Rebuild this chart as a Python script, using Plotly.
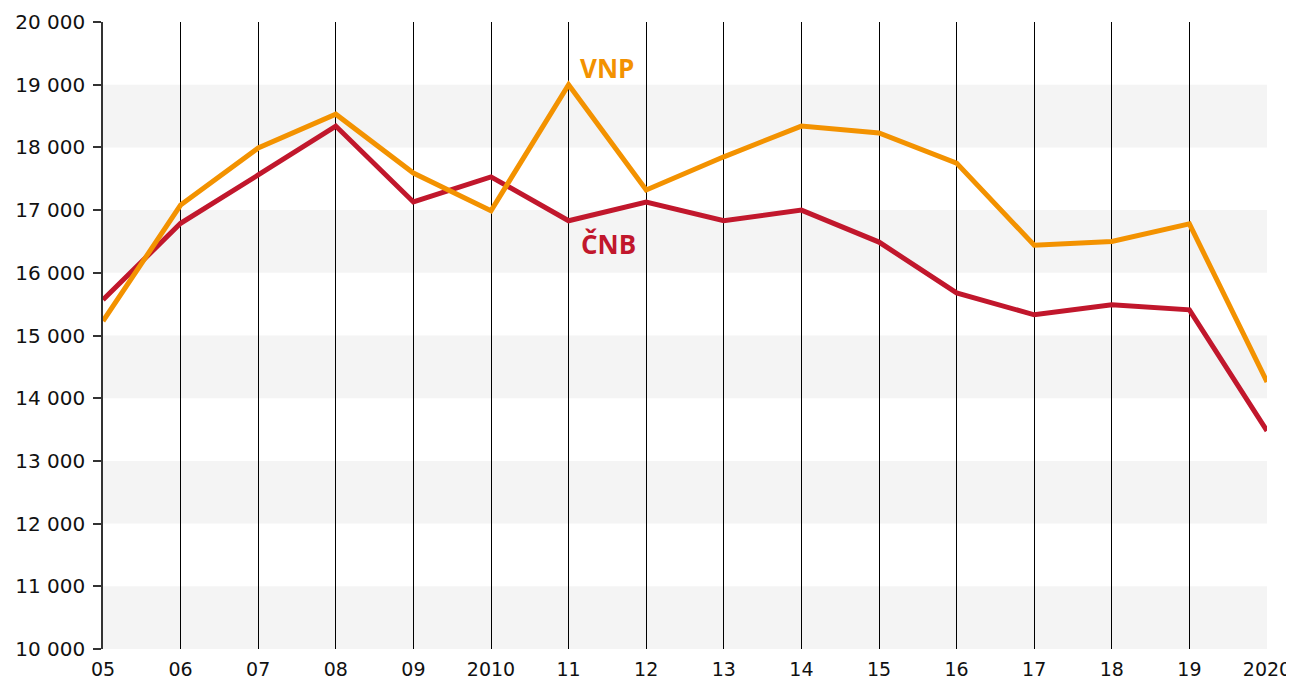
import plotly.graph_objects as go

years = ["05", "06", "07", "08", "09", "2010", "11", "12", "13", "14", "15", "16", "17", "18", "19", "2020"]
vnp = [15230, 17080, 17990, 18530, 17590, 16990, 19000, 17320, 17850, 18340, 18230, 17750, 16440, 16500, 16780, 14260]
cnb = [15570, 16790, 17560, 18340, 17130, 17530, 16830, 17130, 16830, 17000, 16490, 15680, 15330, 15490, 15410, 13480]
y_ticks = [10000, 11000, 12000, 13000, 14000, 15000, 16000, 17000, 18000, 19000, 20000]
y_ticktext = ["10 000", "11 000", "12 000", "13 000", "14 000", "15 000", "16 000", "17 000", "18 000", "19 000", "20 000"]
band_starts = [10000, 12000, 14000, 16000, 18000]

ORANGE = "#F39200"
RED = "#C1172C"
TICKFONT = "DejaVu Sans, Verdana, sans-serif"
LABELFONT = "Open Sans, Noto Sans, sans-serif"
xpos = list(range(len(years)))

fig = go.Figure()
fig.add_trace(go.Scatter(x=xpos, y=cnb, mode="lines", line=dict(color=RED, width=5), name="ČNB"))
fig.add_trace(go.Scatter(x=xpos, y=vnp, mode="lines", line=dict(color=ORANGE, width=5), name="VNP"))

shapes = []
for b in band_starts:
    shapes.append(dict(type="rect", xref="x", yref="y", x0=0, x1=len(years) - 1, y0=b, y1=b + 1000,
                       fillcolor="#F4F4F4", line=dict(width=0), layer="below"))

fig.update_layout(
    width=1286, height=673,
    margin=dict(l=95, r=27, t=14, b=32, autoexpand=False),
    paper_bgcolor="white", plot_bgcolor="white",
    showlegend=False,
    font=dict(family=TICKFONT, size=20, color="#111"),
    shapes=shapes,
    xaxis=dict(range=[0, len(years) - 1], tickmode="array", tickvals=xpos, ticktext=years,
               showgrid=True, gridcolor="#000", gridwidth=1, zeroline=False, showline=False,
               ticks="", ticklen=0, automargin=False, ticklabelstandoff=7,
               tickfont=dict(size=19, family=TICKFONT)),
    yaxis=dict(range=[10000, 20000], tickmode="array", tickvals=y_ticks, ticktext=y_ticktext,
               showgrid=False, zeroline=False, showline=True, linecolor="#333", linewidth=1.5,
               ticks="outside", ticklen=8, tickcolor="#333", tickwidth=1.5, automargin=False,
               ticklabelstandoff=4, tickfont=dict(size=20, family=TICKFONT)),
    annotations=[
        dict(x=6, y=19270, text="<b>VNP</b>", showarrow=False, xanchor="left", xshift=9,
             font=dict(color=ORANGE, size=26, family=LABELFONT)),
        dict(x=6, y=16460, text="<b>ČNB</b>", showarrow=False, xanchor="left", xshift=10,
             font=dict(color=RED, size=26, family=LABELFONT)),
    ],
)

fig.write_html("out.html")
